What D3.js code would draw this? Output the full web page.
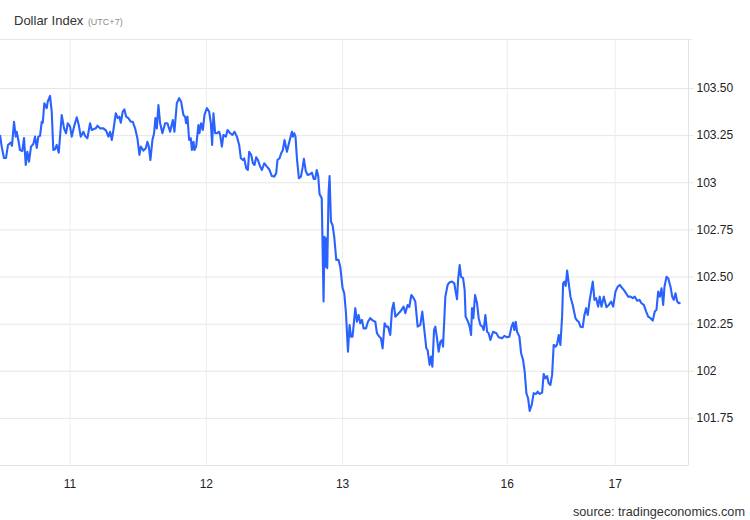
<!DOCTYPE html>
<html>
<head>
<meta charset="utf-8">
<script src="https://cdn.jsdelivr.net/npm/d3@7"></script>
<style>
  html, body { margin: 0; padding: 0; background: #fff; }
  svg { display: block; font-family: "Liberation Sans", Arial, sans-serif; }
</style>
</head>
<body>
<svg id="chart" width="750" height="520"></svg>
<script>
// Trading hours elapsed since Jul 10 12:00 (UTC+7), weekend gap removed
const hours = [-0.25,0.05,0.45,0.81,1.16,1.64,1.86,2.22,2.52,2.69,2.98,3.27,3.68,3.98,4.28,4.56,4.86,5.21,5.62,5.92,6.22,6.50,6.80,7.10,7.28,7.56,7.98,8.16,8.56,8.86,9.14,9.44,9.74,10.10,10.62,11.03,11.38,11.68,12.09,12.39,12.79,13.27,13.62,13.97,14.43,14.73,15.14,15.61,15.91,16.19,16.62,16.90,17.37,17.96,18.43,18.84,19.14,19.44,19.72,20.14,20.49,20.78,21.02,21.37,21.66,21.96,22.36,22.78,23.14,23.54,23.95,24.30,24.55,25.01,25.43,25.71,25.96,26.24,26.59,26.89,27.12,27.37,27.65,27.95,28.35,28.83,29.24,29.71,30.19,30.47,30.89,31.30,31.65,32.05,32.35,32.53,32.76,33.06,33.36,33.54,33.82,33.99,34.29,34.70,34.87,35.17,35.47,35.76,36.18,36.58,36.88,37.11,37.34,37.64,37.94,38.35,38.52,38.82,39.10,39.53,39.81,40.29,40.69,41.04,41.47,41.87,42.17,42.52,42.75,43.11,43.40,43.63,43.99,44.29,44.57,44.87,45.17,45.57,45.87,46.28,46.75,47.16,47.63,48.04,48.39,48.62,48.97,49.27,49.57,49.86,50.28,50.56,50.86,51.16,51.34,51.56,51.79,52.04,52.39,52.75,53.03,53.27,53.59,53.94,54.38,54.68,55.00,55.27,55.53,55.79,56.02,56.41,56.73,56.90,57.08,57.20,57.38,57.61,57.79,58.03,58.32,58.61,58.97,59.37,59.67,60.08,60.38,60.68,61.03,61.31,61.56,61.84,62.32,62.61,62.90,63.20,63.50,63.78,64.20,64.55,64.96,65.43,65.84,66.14,66.55,66.84,67.13,67.48,67.78,68.08,68.48,68.78,69.07,69.37,69.66,69.95,70.25,70.83,71.13,71.53,71.83,72.19,72.59,72.89,73.30,73.77,74.12,74.48,74.83,75.06,75.41,75.66,75.89,76.19,76.41,76.71,77.00,77.30,77.60,77.77,78.18,78.58,78.94,79.36,79.76,79.94,80.24,80.42,80.70,80.94,81.30,81.58,81.75,82.18,82.46,82.71,82.88,83.11,83.41,83.76,84.05,84.35,84.70,84.93,85.23,85.53,85.81,86.11,86.58,87.17,87.57,88.17,88.57,89.05,89.46,89.81,90.11,90.34,90.57,90.81,91.22,91.52,91.87,92.15,92.45,92.75,93.03,93.39,93.74,94.16,94.44,94.80,95.22,95.50,95.80,96.10,96.38,96.68,96.98,97.26,97.62,97.86,98.15,98.44,98.74,98.92,99.15,99.38,99.63,99.91,100.21,100.61,101.09,101.39,101.67,101.97,102.37,102.67,102.97,103.26,103.61,104.14,104.44,104.74,105.09,105.37,105.67,106.08,106.55,106.96,107.38,107.73,108.14,108.54,108.90,109.20,109.60,110.02,110.38,110.78,111.19,111.54,111.96,112.37,112.72,113.13,113.55,113.90,114.31,114.71,115.06,115.36,115.66,115.95,116.25,116.54,116.77,117.13,117.43,117.83,118.13,118.41,118.71,119.01,119.29,119.59];

const values = [103.251,103.189,103.129,103.129,103.198,103.210,103.193,103.321,103.242,103.268,103.224,103.171,103.166,103.235,103.092,103.162,103.109,103.189,103.203,103.242,103.182,103.242,103.246,103.321,103.316,103.419,103.393,103.428,103.458,103.375,103.171,103.175,103.198,103.157,103.357,103.286,103.260,103.313,103.295,103.242,103.295,103.345,103.304,103.242,103.268,103.246,103.233,103.313,103.277,103.281,103.286,103.300,103.286,103.286,103.274,103.242,103.268,103.224,103.277,103.366,103.340,103.348,103.316,103.375,103.387,103.348,103.340,103.321,103.321,103.286,103.233,103.145,103.189,103.168,103.180,103.215,103.189,103.118,103.224,103.260,103.340,103.286,103.410,103.313,103.260,103.313,103.313,103.268,103.330,103.268,103.419,103.446,103.428,103.357,103.348,103.313,103.348,103.224,103.233,103.171,103.215,103.171,103.189,103.304,103.260,103.313,103.277,103.357,103.393,103.375,103.313,103.198,103.366,103.260,103.260,103.268,103.251,103.189,103.251,103.242,103.277,103.260,103.251,103.268,103.242,103.198,103.127,103.118,103.127,103.074,103.065,103.162,103.145,103.101,103.092,103.133,103.118,103.083,103.065,103.101,103.083,103.069,103.033,103.030,103.048,103.118,103.127,103.154,103.171,103.224,103.162,103.198,103.233,103.268,103.242,103.260,103.242,103.127,103.021,103.030,103.076,103.124,103.060,103.039,103.044,103.051,103.018,103.018,103.065,103.033,102.938,102.915,102.367,102.711,102.552,102.703,102.544,102.942,103.033,102.791,102.773,102.711,102.588,102.588,102.552,102.438,102.411,102.305,102.101,102.243,102.181,102.181,102.332,102.260,102.296,102.252,102.270,102.225,102.225,102.260,102.279,102.266,102.260,102.199,102.181,102.172,102.119,102.252,102.234,102.234,102.190,102.323,102.361,102.287,102.296,102.305,102.314,102.340,102.305,102.349,102.338,102.402,102.385,102.367,102.234,102.243,102.314,102.216,102.119,102.110,102.031,102.075,102.022,102.216,102.234,102.172,102.101,102.154,102.163,102.128,102.393,102.455,102.470,102.473,102.464,102.429,102.379,102.482,102.561,102.499,102.491,102.429,102.287,102.260,102.234,102.190,102.332,102.279,102.402,102.358,102.279,102.243,102.234,102.216,102.296,102.207,102.199,102.163,102.207,102.199,102.178,102.172,102.185,102.178,102.181,102.231,102.255,102.216,102.260,102.207,102.181,102.093,102.057,101.995,101.881,101.854,101.787,101.819,101.881,101.877,101.889,101.877,101.884,101.983,101.960,101.972,101.934,101.925,101.978,102.137,102.128,102.141,102.190,102.137,102.287,102.464,102.473,102.450,102.531,102.464,102.393,102.349,102.279,102.266,102.260,102.234,102.231,102.296,102.332,102.296,102.376,102.473,102.376,102.385,102.340,102.393,102.340,102.393,102.337,102.349,102.367,102.340,102.420,102.446,102.455,102.443,102.429,102.411,102.393,102.393,102.385,102.393,102.372,102.376,102.358,102.349,102.314,102.287,102.279,102.266,102.314,102.323,102.420,102.393,102.438,102.349,102.446,102.499,102.491,102.446,102.393,102.376,102.411,102.367,102.358,102.361];

const dayLabels = ["11", "12", "13", "16", "17"];
const dayHours = [12, 36, 60, 89, 108];

const yTicks = [101.75, 102, 102.25, 102.5, 102.75, 103, 103.25, 103.5];
const yTickLabels = ["101.75", "102", "102.25", "102.50", "102.75", "103", "103.25", "103.50"];

const title = "Dollar Index";
const subtitle = "(UTC+7)";
const source = "source: tradingeconomics.com";

const svg = d3.select("#chart");
const plot = { left: 0, right: 688.5, top: 39, bottom: 465 };

const x = d3.scaleLinear().domain([-0.25, 121]).range([plot.left, plot.right]);
const y = d3.scaleLinear().domain([101.5, 103.76]).range([plot.bottom, plot.top]);

// title
const t = svg.append("text").attr("x", 14).attr("y", 25);
t.append("tspan").text(title).attr("font-size", 13).attr("fill", "#333");
t.append("tspan").text(" " + subtitle).attr("font-size", 9).attr("fill", "#8a8a8a").attr("dx", 2);

// top border line
svg.append("line")
  .attr("x1", 0).attr("x2", plot.right + 3)
  .attr("y1", plot.top + 0.5).attr("y2", plot.top + 0.5)
  .attr("stroke", "#e6e6e6").attr("stroke-width", 1);

// horizontal gridlines + right axis
const yAxis = d3.axisRight(y)
  .tickValues(yTicks)
  .tickFormat((d, i) => yTickLabels[i])
  .tickSize(-(plot.right - plot.left))
  .tickSizeOuter(0)
  .tickPadding(8);
const gy = svg.append("g").attr("transform", `translate(${plot.right},0)`).call(yAxis);
gy.select(".domain").remove();
gy.selectAll(".tick line").attr("stroke", "#e6e6e6").attr("x2", 5).attr("x1", -(plot.right - plot.left));
gy.selectAll(".tick text").attr("x", 8).attr("font-size", 12).attr("fill", "#222")
  .attr("font-family", "'Liberation Sans', Arial, sans-serif");

// vertical gridlines + bottom axis
const xAxis = d3.axisBottom(x)
  .tickValues(dayHours)
  .tickFormat((d, i) => dayLabels[i])
  .tickSize(-(plot.bottom - plot.top))
  .tickSizeOuter(0)
  .tickPadding(14);
const gx = svg.append("g").attr("transform", `translate(0,${plot.bottom})`).call(xAxis);
gx.select(".domain").remove();
gx.selectAll(".tick line").attr("stroke", "#ececec");
gx.selectAll(".tick text").attr("font-size", 12).attr("fill", "#222")
  .attr("font-family", "'Liberation Sans', Arial, sans-serif");

// right vertical axis line
svg.append("line")
  .attr("x1", plot.right).attr("x2", plot.right)
  .attr("y1", plot.top).attr("y2", plot.bottom)
  .attr("stroke", "#e2e2e2");
// bottom axis line
svg.append("line")
  .attr("x1", 0).attr("x2", plot.right)
  .attr("y1", plot.bottom + 0.5).attr("y2", plot.bottom + 0.5)
  .attr("stroke", "#e2e2e2");

// data line
const data = hours.map((h, i) => ({ h, v: values[i] }));
const line = d3.line().x(d => x(d.h)).y(d => y(d.v));
svg.append("path")
  .datum(data)
  .attr("d", line)
  .attr("fill", "none")
  .attr("stroke", "#2962ff")
  .attr("stroke-width", 2.1)
  .attr("stroke-linejoin", "round");

// source
svg.append("text")
  .attr("x", 745).attr("y", 516)
  .attr("text-anchor", "end")
  .attr("font-size", 12.7)
  .attr("fill", "#333")
  .text(source);
</script>
</body>
</html>
